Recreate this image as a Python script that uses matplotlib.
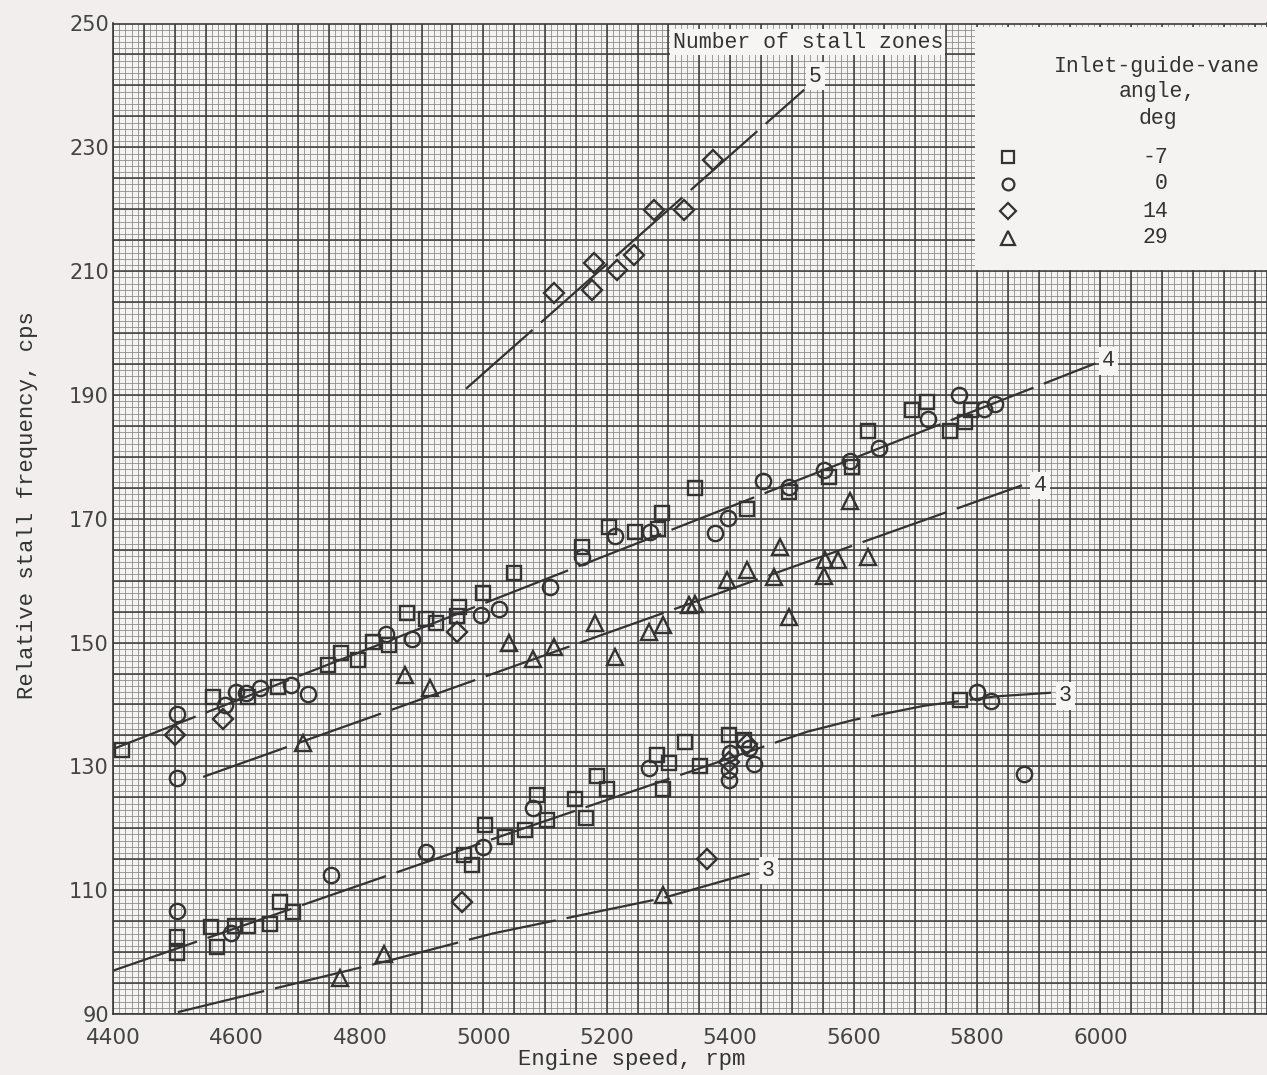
import numpy as np
import matplotlib.pyplot as plt
from matplotlib.patches import Rectangle

# Relative stall frequency vs engine speed, by inlet-guide-vane angle
sq_x = [4415, 4562, 4619, 4668, 4749, 4770, 4797, 4822, 4848, 4877, 4908, 4924,
        4957, 4960, 5000, 5050, 5160, 5203, 5246, 5283, 5289, 5343, 5427, 5495,
        5560, 5598, 5624, 5695, 5719, 5757, 5781, 5790,
        4504, 4504, 4559, 4568, 4597, 4619, 4654, 4670, 4692, 4968, 4981, 5003,
        5035, 5068, 5087, 5103, 5148, 5166, 5184, 5200, 5281, 5292, 5301, 5327,
        5352, 5399, 5422, 5773]
sq_y = [132.6, 141.2, 141.2, 142.9, 146.4, 148.3, 147.2, 150.1, 149.6, 154.7, 153.8, 153.1,
        154.3, 155.8, 158.0, 161.3, 165.5, 168.7, 167.9, 168.4, 170.9, 174.9, 171.5, 174.4,
        176.8, 178.4, 184.1, 187.6, 188.9, 184.1, 185.7, 187.6,
        102.5, 99.9, 104.0, 100.9, 104.2, 104.2, 104.6, 108.1, 106.5, 115.7, 114.1, 120.5,
        118.6, 119.7, 125.4, 121.4, 124.7, 121.6, 128.4, 126.3, 131.8, 126.4, 130.6, 134.0,
        130.1, 135.0, 134.2, 140.8]

ci_x = [4503, 4503, 4581, 4600, 4616, 4639, 4688, 4716, 4843, 4884, 4997, 5025,
        5108, 5160, 5214, 5270, 5376, 5397, 5453, 5495, 5552, 5595, 5641, 5721,
        5771, 5811, 5830,
        4503, 4592, 4754, 4908, 5000, 5080, 5268, 5400, 5398, 5398, 5430, 5438,
        5800, 5822, 5876]
ci_y = [138.5, 128.1, 139.9, 142.0, 141.8, 142.6, 143.1, 141.7, 151.4, 150.5, 154.4, 155.4,
        159.0, 163.9, 167.2, 167.9, 167.7, 170.1, 176.1, 175.2, 177.9, 179.3, 181.4, 186.1,
        190.0, 187.8, 188.6,
        106.7, 103.1, 112.4, 116.2, 117.0, 123.2, 129.7, 132.1, 129.4, 127.8, 132.9, 130.4,
        142.0, 140.6, 128.8]

di_x = [4500, 4578, 4957, 4966, 5114, 5176, 5179, 5216, 5245, 5277, 5326, 5373,
        5362, 5398, 5427]
di_y = [135.1, 137.6, 151.7, 108.1, 206.4, 206.9, 211.3, 210.2, 212.6, 219.9, 219.9, 227.9,
        115.1, 130.7, 133.6]

tr_x = [4708, 4873, 4914, 5041, 5081, 5114, 5181, 5214, 5268, 5292, 5333, 5343,
        5395, 5427, 5471, 5481, 5495, 5552, 5554, 5575, 5595, 5624,
        4768, 4839, 5292]
tr_y = [133.7, 144.8, 142.6, 149.9, 147.4, 149.3, 153.1, 147.7, 151.7, 152.8, 156.1, 156.2,
        160.1, 161.7, 160.6, 165.5, 154.2, 160.7, 163.3, 163.3, 172.8, 163.8,
        95.8, 99.7, 109.2]

# faired curves, one per number of stall zones
z5_x, z5_y = [4972, 5520], [191.0, 239.3]
z4a_x, z4a_y = [4400, 5992], [132.8, 195.1]
z4b_x, z4b_y = [4546, 5873], [128.3, 175.4]
z3a_x = [4400, 5060, 5525, 5600, 5715, 5830, 5920]
z3a_y = [97.0, 119.8, 135.6, 137.5, 139.8, 141.3, 141.9]
z3b_x = [4505, 4850, 5015, 5290, 5435]
z3b_y = [90.3, 98.7, 103.0, 108.7, 112.8]

angles = ['-7', '0', '14', '29']

paper = '#f1eeed'
ink = '#333333'

plt.rcParams['font.family'] = ['Liberation Mono', 'DejaVu Sans Mono']

fig = plt.figure(figsize=(12.67, 10.75), dpi=100, facecolor=paper)
ax = fig.add_axes([113/1267, 61/1075, 1 - 113/1267, 990.5/1075])
ax.set_facecolor('#f5f3f2')
ax.set_xlim(4400, 6270)
ax.set_ylim(90, 250)

# graph paper
ax.vlines(np.arange(4400, 6271, 10), 90, 250, colors='#858585', lw=0.55, zorder=0)
ax.hlines(np.arange(90, 251, 1), 4400, 6270, colors='#858585', lw=0.55, zorder=0)
ax.vlines(np.arange(4400, 6271, 50), 90, 250, colors='#3a3a3a', lw=1.1, zorder=0)
ax.hlines(np.arange(90, 251, 5), 4400, 6270, colors='#3a3a3a', lw=1.1, zorder=0)

for s in ax.spines.values():
    s.set_color('#3a3a3a')
    s.set_linewidth(1.2)

ax.set_xticks(np.arange(4400, 6001, 200))
ax.set_yticks(np.arange(90, 251, 20))
ax.tick_params(length=0, labelcolor='#444444')
ax.tick_params(axis='x', labelsize=15.5, pad=10)
ax.tick_params(axis='y', labelsize=15, pad=3)
for lab in ax.get_xticklabels() + ax.get_yticklabels():
    lab.set_family('DejaVu Sans')

dash = (0, (40, 5))
for lx, ly in [(z5_x, z5_y), (z4a_x, z4a_y), (z4b_x, z4b_y), (z3a_x, z3a_y), (z3b_x, z3b_y)]:
    ax.plot(lx, ly, color=ink, lw=1.6, linestyle=dash, zorder=2)

mk = dict(linestyle='none', mfc='none', mec=ink, mew=1.7, zorder=3)
ax.plot(sq_x, sq_y, marker='s', ms=10, **mk)
ax.plot(ci_x, ci_y, marker='o', ms=11, **mk)
ax.plot(di_x, di_y, marker='D', ms=10, **mk)
ax.plot(tr_x, tr_y, marker='^', ms=12, **mk)

box = dict(boxstyle='square,pad=0.15', fc='#f6f5f4', ec='none')
for tx, ty, t in [(5538, 241.5, '5'), (6013, 195.5, '4'), (5902, 175.4, '4'),
                  (5943, 141.4, '3'), (5462, 113.2, '3')]:
    ax.text(tx, ty, t, ha='center', va='center', fontsize=15.5, color=ink,
            bbox=box, zorder=4)

ax.text(0.602, 0.981, 'Number of stall zones', transform=ax.transAxes,
        ha='center', va='center', fontsize=15.5, color=ink,
        bbox=dict(boxstyle='square,pad=0.12', fc='#f6f5f4', ec='none'), zorder=4)

# key
ax.add_patch(Rectangle((0.747, 0.751), 0.3, 0.2455, transform=ax.transAxes,
                       fc='#f4f3f2', ec='none', zorder=4, clip_on=False))
ax.text(0.905, 0.957, 'Inlet-guide-vane', transform=ax.transAxes, ha='center',
        va='center', fontsize=15.5, color=ink, zorder=5)
ax.text(0.905, 0.931, 'angle,', transform=ax.transAxes, ha='center',
        va='center', fontsize=15.5, color=ink, zorder=5)
ax.text(0.905, 0.904, 'deg', transform=ax.transAxes, ha='center',
        va='center', fontsize=15.5, color=ink, zorder=5)
key_y = [0.8652, 0.8380, 0.8107, 0.7835]
key_m = [('s', 8), ('o', 8.5), ('D', 8), ('^', 10)]
for (m, size), yy, a in zip(key_m, key_y, angles):
    ax.plot([0.7756], [yy], marker=m, ms=size, mfc='none', mec=ink, mew=1.6,
            transform=ax.transAxes, clip_on=False, zorder=5)
    ax.text(0.914, yy, a, transform=ax.transAxes, ha='right', va='center',
            fontsize=15.5, color=ink, zorder=5)

fig.text(632/1267, 1 - 1060/1075, 'Engine speed, rpm', ha='center', va='center',
         fontsize=16, color=ink)
fig.text(28/1267, 1 - 505/1075, 'Relative stall frequency, cps', ha='center',
         va='center', rotation=90, fontsize=16, color=ink)

fig.savefig('out.png', dpi=100, facecolor=paper)
